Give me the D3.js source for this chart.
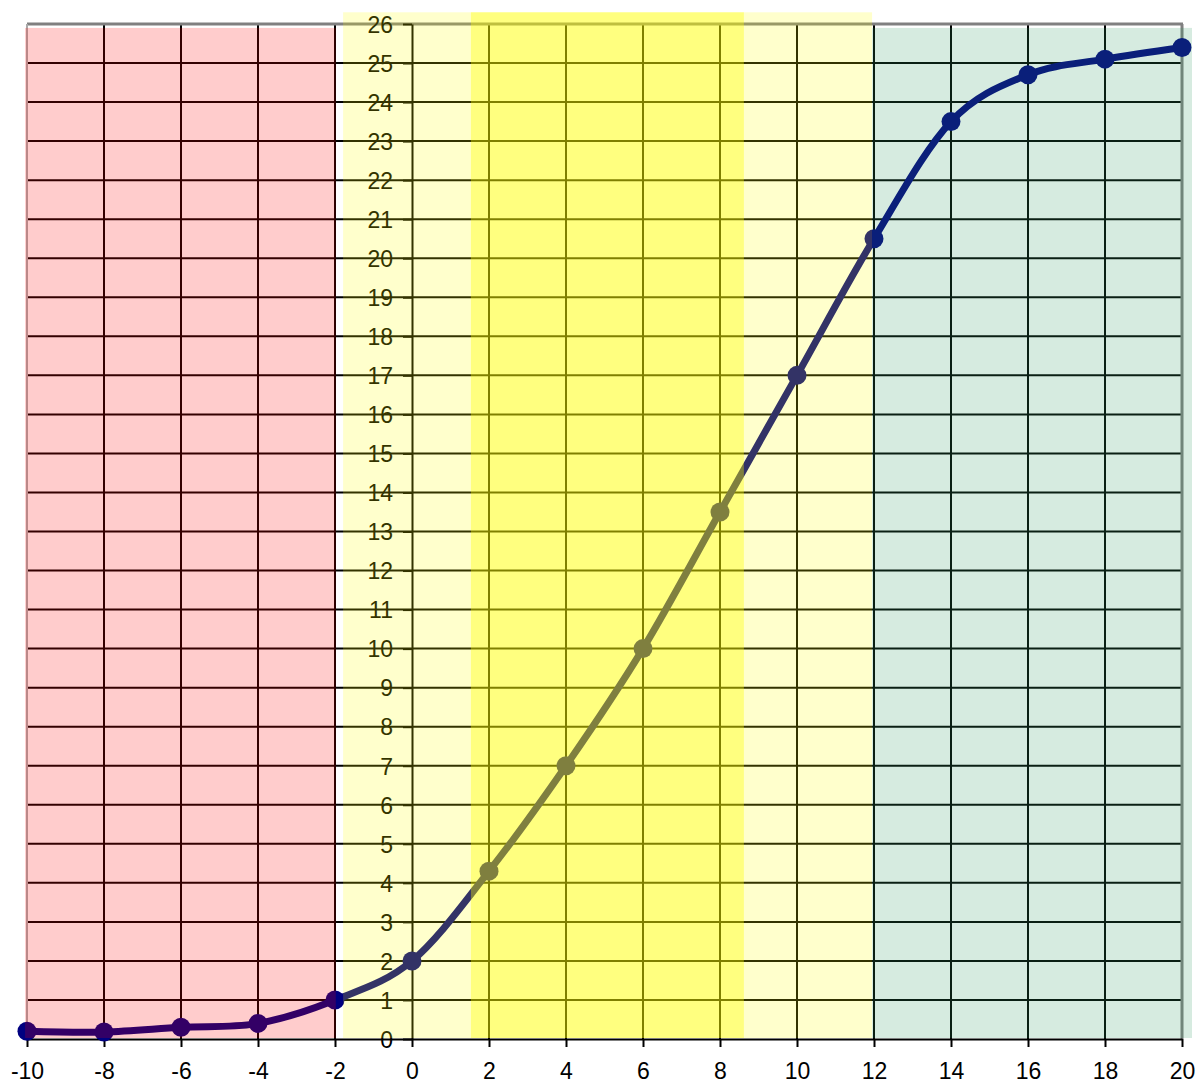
<!DOCTYPE html>
<html>
<head>
<meta charset="utf-8">
<script src="https://cdn.jsdelivr.net/npm/d3@7"></script>
<style>
  body { margin: 0; background: #fff; }
  svg { display: block; font-family: "Liberation Sans", Arial, sans-serif; }
</style>
</head>
<body>
<svg id="chart" width="1199" height="1083"></svg>
<script>
// data
var xValues = [-10, -8, -6, -4, -2, 0, 2, 4, 6, 8, 10, 12, 14, 16, 18, 20];
var yValues = [0.2, 0.18, 0.3, 0.4, 1, 2, 4.3, 7, 10, 13.5, 17, 20.5, 23.5, 24.7, 25.1, 25.4];
var xTicks = [-10, -8, -6, -4, -2, 0, 2, 4, 6, 8, 10, 12, 14, 16, 18, 20];
var yTicks = d3.range(0, 27);

// shaded zones (data units): start, end, top
var zoneStart = [-10.05, -1.79, 1.53, 11.95];
var zoneEnd = [-1.98, 11.95, 8.62, 20.26];
var zoneTop = [25.9, 26.3, 26.3, 25.9];
var zoneColor = ['#ff0000', '#ffff00', '#ffff00', '#339966'];
var zoneOpacity = [0.2, 0.2, 0.375, 0.2];

var svg = d3.select('#chart');
var x = d3.scaleLinear().domain([-10, 20]).range([27, 1182]);
var y = d3.scaleLinear().domain([0, 26]).range([1039, 24]);

// grid
var grid = svg.append('g').attr('class', 'grid');
grid.selectAll('line.h')
    .data(yTicks.filter(function (d) { return d > 0 && d < 26; }))
    .enter()
    .append('line')
    .attr('class', 'h')
    .attr('x1', x(-10)).attr('x2', x(20))
    .attr('y1', function (d) { return y(d); })
    .attr('y2', function (d) { return y(d); })
    .attr('stroke', '#000')
    .attr('stroke-width', 2);
grid.selectAll('line.v')
    .data(xTicks.filter(function (d) { return d > -10 && d < 20 && d !== 0; }))
    .enter()
    .append('line')
    .attr('class', 'v')
    .attr('x1', function (d) { return x(d); })
    .attr('x2', function (d) { return x(d); })
    .attr('y1', y(26)).attr('y2', y(0))
    .attr('stroke', '#000')
    .attr('stroke-width', 2);

// frame: top and right grey, left faint
svg.append('line')
    .attr('x1', x(-10)).attr('x2', x(20) + 1)
    .attr('y1', y(26)).attr('y2', y(26))
    .attr('stroke', '#808080').attr('stroke-width', 3);
svg.append('line')
    .attr('x1', x(20)).attr('x2', x(20))
    .attr('y1', y(26)).attr('y2', y(0))
    .attr('stroke', '#808080').attr('stroke-width', 3);
svg.append('line')
    .attr('x1', x(-10)).attr('x2', x(-10))
    .attr('y1', y(26)).attr('y2', y(0))
    .attr('stroke', '#aaaaaa').attr('stroke-width', 2);

// axes (plain hyphen for negatives)
var fmt = function (d) { return String(d); };
var yAxis = d3.axisLeft(y).tickValues(yTicks).tickFormat(fmt)
    .tickSize(9).tickSizeOuter(0).tickPadding(10);
var gy = svg.append('g')
    .attr('transform', 'translate(' + x(0) + ',0)')
    .call(yAxis);

var xAxis = d3.axisBottom(x).tickValues(xTicks).tickFormat(fmt)
    .tickSize(8).tickSizeOuter(0).tickPadding(16);
var gx = svg.append('g')
    .attr('transform', 'translate(0,' + y(0) + ')')
    .call(xAxis);

[gx, gy].forEach(function (g) {
    g.attr('font-size', 23).attr('font-family', '"Liberation Sans", Arial, sans-serif');
    g.select('.domain').attr('stroke', '#000').attr('stroke-width', 2);
    g.selectAll('.tick line').attr('stroke', '#000').attr('stroke-width', 2);
    g.selectAll('.tick text').attr('fill', '#000');
});
gy.selectAll('.tick text').attr('dy', '0.36em');

// series
var points = xValues.map(function (d, i) { return { x: d, y: yValues[i] }; });
var line = d3.line()
    .x(function (d) { return x(d.x); })
    .y(function (d) { return y(d.y); })
    .curve(d3.curveCardinal.tension(0));

svg.append('path')
    .datum(points)
    .attr('d', line)
    .attr('fill', 'none')
    .attr('stroke', '#000080')
    .attr('stroke-width', 7)
    .attr('stroke-linejoin', 'round');

svg.append('g')
    .selectAll('circle')
    .data(points)
    .enter()
    .append('circle')
    .attr('cx', function (d) { return x(d.x); })
    .attr('cy', function (d) { return y(d.y); })
    .attr('r', 9.5)
    .attr('fill', '#000080');

// translucent zones over everything inside the plot
svg.append('g')
    .selectAll('rect')
    .data(zoneStart)
    .enter()
    .append('rect')
    .attr('x', function (d) { return x(d); })
    .attr('width', function (d, i) { return x(zoneEnd[i]) - x(d); })
    .attr('y', function (d, i) { return y(zoneTop[i]); })
    .attr('height', function (d, i) { return y(0) - 1 - y(zoneTop[i]); })
    .attr('fill', function (d, i) { return zoneColor[i]; })
    .attr('fill-opacity', function (d, i) { return zoneOpacity[i]; });
</script>
</body>
</html>
